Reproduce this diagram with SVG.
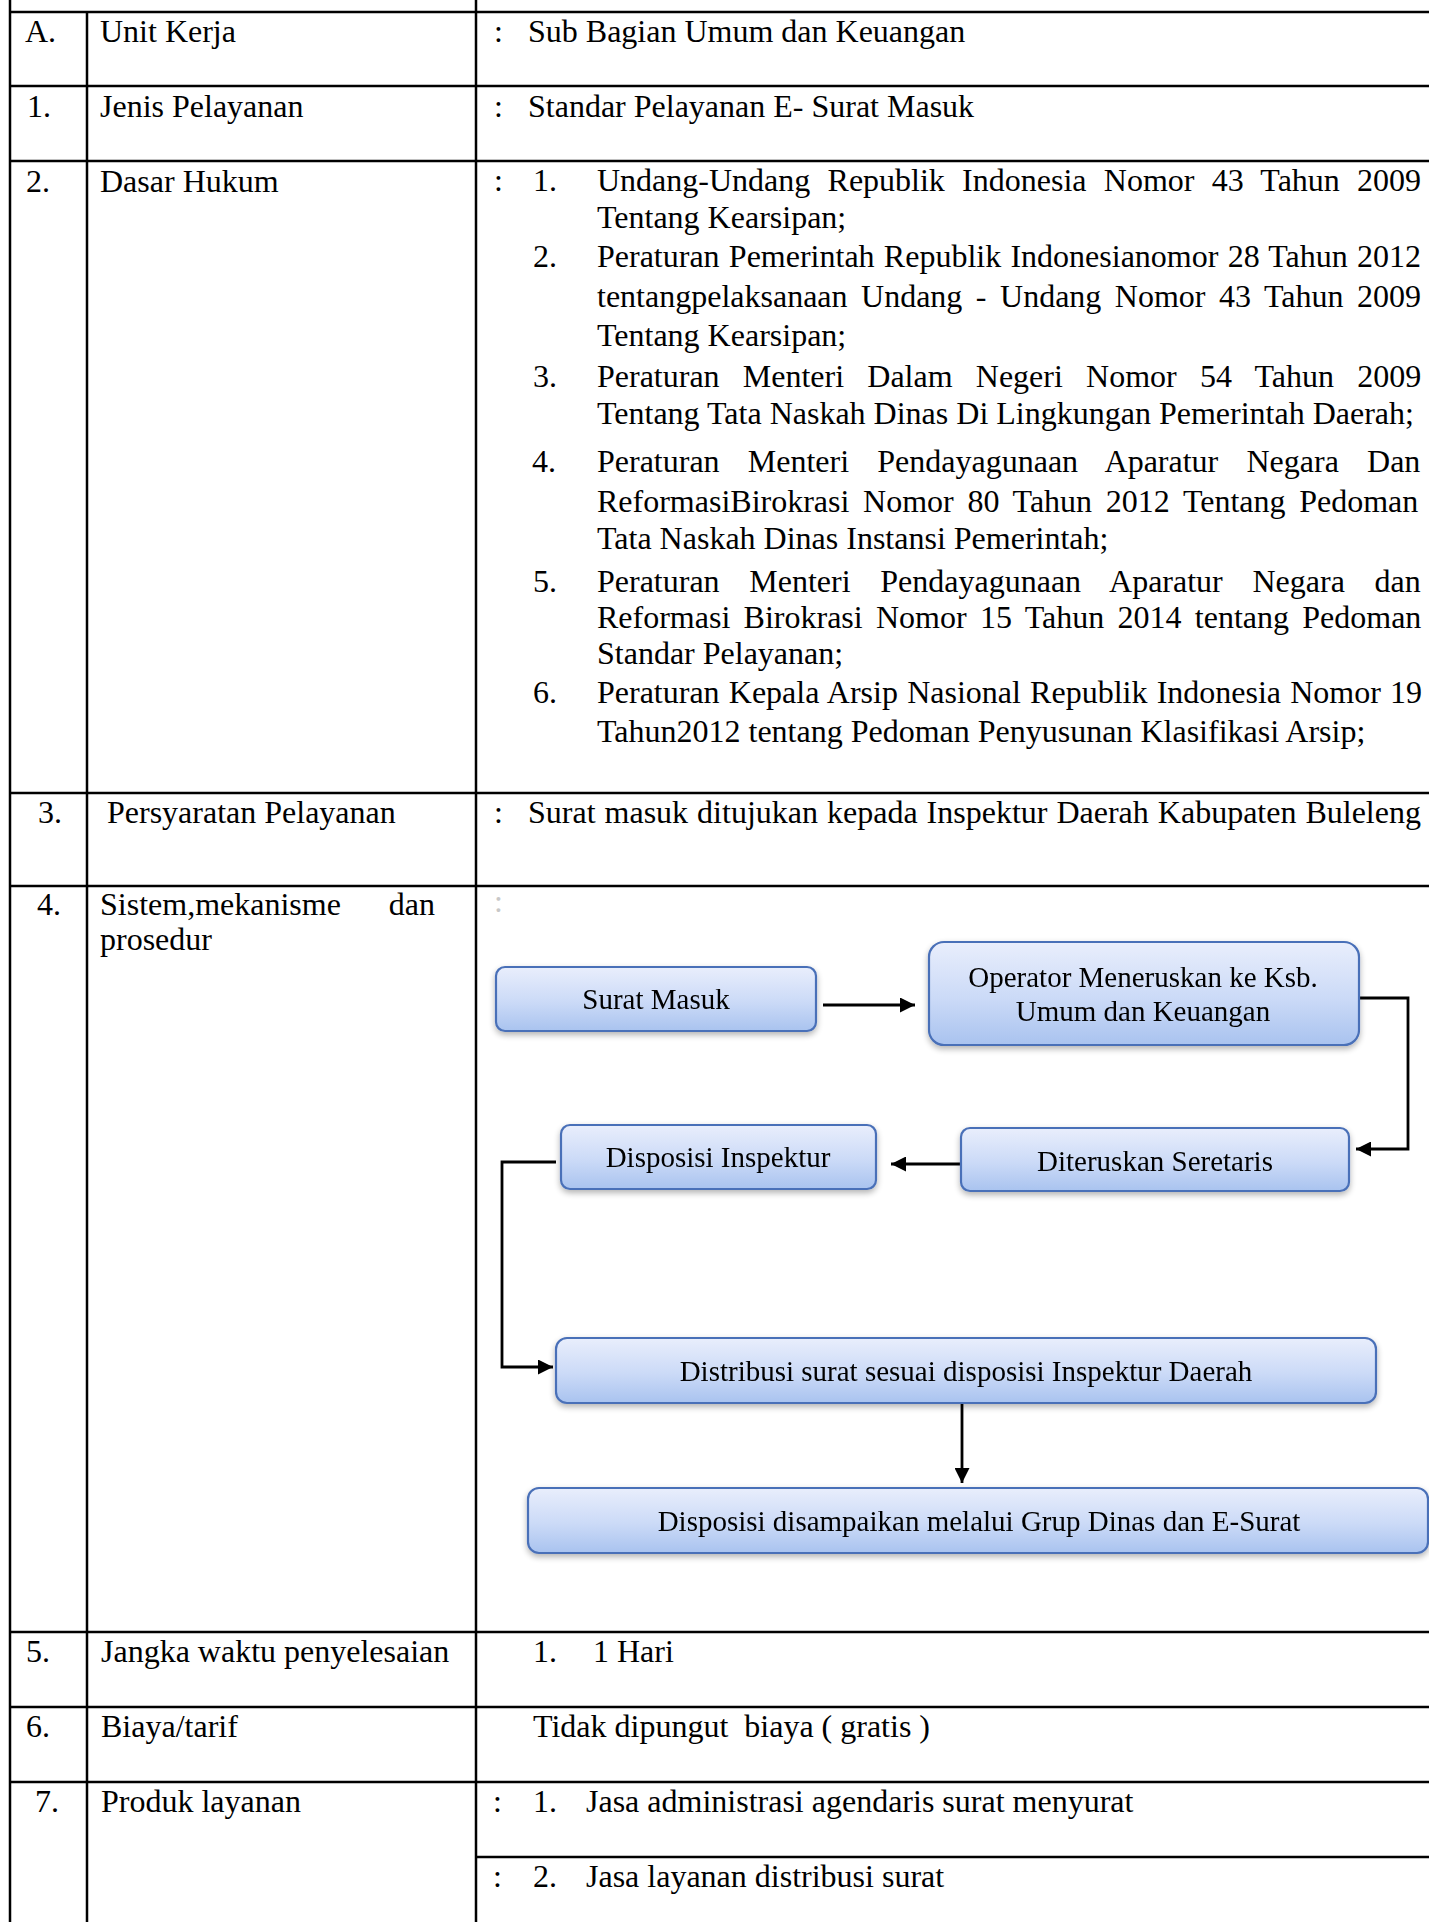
<svg xmlns="http://www.w3.org/2000/svg" width="1429" height="1922" viewBox="0 0 1429 1922">
<style>
.t{font-family:"Liberation Serif","Times New Roman",serif;font-size:32px;fill:#000}
.b{font-family:"Liberation Serif","Times New Roman",serif;font-size:29px;fill:#000;text-anchor:middle}
.grid{stroke:#000;stroke-width:2.5;fill:none}
.box{fill:url(#bg);stroke:#4a70b8;stroke-width:2.2}
.conn{stroke:#000;stroke-width:2.8;fill:none}
</style>
<defs>
<linearGradient id="bg" x1="0" y1="0" x2="0" y2="1">
<stop offset="0" stop-color="#e9eefc"/>
<stop offset="0.55" stop-color="#cbdaf7"/>
<stop offset="1" stop-color="#a9c3ef"/>
</linearGradient>
<filter id="sh" x="-5%" y="-20%" width="110%" height="150%">
<feGaussianBlur in="SourceAlpha" stdDeviation="3"/>
<feOffset dx="0" dy="3" result="o"/>
<feComponentTransfer><feFuncA type="linear" slope="0.3"/></feComponentTransfer>
<feMerge><feMergeNode/><feMergeNode in="SourceGraphic"/></feMerge>
</filter>
<marker id="ah" viewBox="0 0 10 10" refX="10" refY="5" markerWidth="17" markerHeight="15" markerUnits="userSpaceOnUse" orient="auto">
<path d="M0,0 L10,5 L0,10 z" fill="#000"/>
</marker>
</defs>
<rect width="1429" height="1922" fill="#fff"/>

<g id="table-grid" class="grid">
<line x1="10" y1="0" x2="10" y2="1922"/>
<line x1="87" y1="12" x2="87" y2="1922"/>
<line x1="476" y1="0" x2="476" y2="1922"/>
<line x1="10" y1="12" x2="1429" y2="12"/>
<line x1="10" y1="86" x2="1429" y2="86"/>
<line x1="10" y1="161" x2="1429" y2="161"/>
<line x1="10" y1="793" x2="1429" y2="793"/>
<line x1="10" y1="886" x2="1429" y2="886"/>
<line x1="10" y1="1632" x2="1429" y2="1632"/>
<line x1="10" y1="1707" x2="1429" y2="1707"/>
<line x1="10" y1="1782" x2="1429" y2="1782"/>
<line x1="476" y1="1857" x2="1429" y2="1857"/>
</g>

<g id="row-A">
<text class="t" x="25" y="42">A.</text>
<text class="t" x="100" y="42">Unit Kerja</text>
<text class="t" x="494" y="42">:</text>
<text class="t" x="528" y="42">Sub Bagian Umum dan Keuangan</text>
</g>
<g id="row-1">
<text class="t" x="27" y="117">1.</text>
<text class="t" x="100" y="117">Jenis Pelayanan</text>
<text class="t" x="494" y="117">:</text>
<text class="t" x="528" y="117">Standar Pelayanan E- Surat Masuk</text>
</g>
<g id="row-2">
<text class="t" x="26" y="192">2.</text>
<text class="t" x="100" y="192">Dasar Hukum</text>
<text class="t" x="494" y="191">:</text>
<text class="t" x="533" y="191">1.</text>
<text class="t" x="597" y="191" style="word-spacing:9.25px">Undang-Undang Republik Indonesia Nomor 43 Tahun 2009</text>
<text class="t" x="597" y="228">Tentang Kearsipan;</text>
<text class="t" x="533" y="267">2.</text>
<text class="t" x="597" y="267" style="word-spacing:1.25px">Peraturan Pemerintah Republik Indonesianomor 28 Tahun 2012</text>
<text class="t" x="597" y="307" style="word-spacing:5.5px">tentangpelaksanaan Undang - Undang Nomor 43 Tahun 2009</text>
<text class="t" x="597" y="346">Tentang Kearsipan;</text>
<text class="t" x="533" y="387">3.</text>
<text class="t" x="597" y="387" style="word-spacing:15.2px">Peraturan Menteri Dalam Negeri Nomor 54 Tahun 2009</text>
<text class="t" x="597" y="424">Tentang Tata Naskah Dinas Di Lingkungan Pemerintah Daerah;</text>
<text class="t" x="532" y="472">4.</text>
<text class="t" x="597" y="472" style="word-spacing:20.2px">Peraturan Menteri Pendayagunaan Aparatur Negara Dan</text>
<text class="t" x="597" y="512" style="word-spacing:5.7px">ReformasiBirokrasi Nomor 80 Tahun 2012 Tentang Pedoman</text>
<text class="t" x="597" y="549">Tata Naskah Dinas Instansi Pemerintah;</text>
<text class="t" x="533" y="592">5.</text>
<text class="t" x="597" y="592" style="word-spacing:21.7px">Peraturan Menteri Pendayagunaan Aparatur Negara dan</text>
<text class="t" x="597" y="628" style="word-spacing:5.3px">Reformasi Birokrasi Nomor 15 Tahun 2014 tentang Pedoman</text>
<text class="t" x="597" y="664">Standar Pelayanan;</text>
<text class="t" x="533" y="703">6.</text>
<text class="t" x="597" y="703" style="word-spacing:1.2px">Peraturan Kepala Arsip Nasional Republik Indonesia Nomor 19</text>
<text class="t" x="597" y="742">Tahun2012 tentang Pedoman Penyusunan Klasifikasi Arsip;</text>
</g>
<g id="row-3">
<text class="t" x="38" y="823">3.</text>
<text class="t" x="107" y="823">Persyaratan Pelayanan</text>
<text class="t" x="494" y="823">:</text>
<text class="t" x="528" y="823" style="word-spacing:1px">Surat masuk ditujukan kepada Inspektur Daerah Kabupaten Buleleng</text>
</g>
<g id="row-4">
<text class="t" x="37" y="915">4.</text>
<text class="t" x="100" y="915">Sistem,mekanisme</text>
<text class="t" x="435" y="915" text-anchor="end">dan</text>
<text class="t" x="100" y="950">prosedur</text>
<text class="t" x="494" y="912" style="fill:#c8c8c8">:</text>
</g>

<g id="connectors">
<line class="conn" x1="823" y1="1005" x2="915" y2="1005" marker-end="url(#ah)"/>
<polyline class="conn" points="1360,998 1408,998 1408,1149 1356,1149" marker-end="url(#ah)"/>
<line class="conn" x1="961" y1="1164" x2="891" y2="1164" marker-end="url(#ah)"/>
<polyline class="conn" points="556,1162 502,1162 502,1367 553,1367" marker-end="url(#ah)"/>
<line class="conn" x1="962" y1="1404" x2="962" y2="1483" marker-end="url(#ah)"/>
</g>

<g id="node-surat-masuk" filter="url(#sh)">
<rect class="box" x="496" y="967" width="320" height="64" rx="9"/>
<text class="b" x="656" y="1009">Surat Masuk</text>
</g>
<g id="node-operator" filter="url(#sh)">
<rect class="box" x="929" y="942" width="430" height="103" rx="15"/>
<text class="b" x="1143" y="987">Operator Meneruskan ke Ksb.</text>
<text class="b" x="1143" y="1021">Umum dan Keuangan</text>
</g>
<g id="node-diteruskan" filter="url(#sh)">
<rect class="box" x="961" y="1128" width="388" height="63" rx="9"/>
<text class="b" x="1155" y="1171">Diteruskan Seretaris</text>
</g>
<g id="node-disposisi-inspektur" filter="url(#sh)">
<rect class="box" x="561" y="1125" width="315" height="64" rx="9"/>
<text class="b" x="718" y="1167">Disposisi Inspektur</text>
</g>
<g id="node-distribusi" filter="url(#sh)">
<rect class="box" x="556" y="1338" width="820" height="65" rx="11"/>
<text class="b" x="966" y="1381">Distribusi surat sesuai disposisi Inspektur Daerah</text>
</g>
<g id="node-disposisi-disampaikan" filter="url(#sh)">
<rect class="box" x="528" y="1488" width="900" height="65" rx="11"/>
<text class="b" x="979" y="1531">Disposisi disampaikan melalui Grup Dinas dan E-Surat</text>
</g>

<g id="row-5">
<text class="t" x="26" y="1662">5.</text>
<text class="t" x="101" y="1662">Jangka waktu penyelesaian</text>
<text class="t" x="533" y="1662">1.</text>
<text class="t" x="593" y="1662">1 Hari</text>
</g>
<g id="row-6">
<text class="t" x="26" y="1737">6.</text>
<text class="t" x="101" y="1737">Biaya/tarif</text>
<text class="t" x="533" y="1737" xml:space="preserve">Tidak dipungut  biaya ( gratis )</text>
</g>
<g id="row-7">
<text class="t" x="35" y="1812">7.</text>
<text class="t" x="101" y="1812">Produk layanan</text>
<text class="t" x="493" y="1812">:</text>
<text class="t" x="533" y="1812">1.</text>
<text class="t" x="586" y="1812">Jasa administrasi agendaris surat menyurat</text>
<text class="t" x="493" y="1887">:</text>
<text class="t" x="533" y="1887">2.</text>
<text class="t" x="586" y="1887">Jasa layanan distribusi surat</text>
</g>
</svg>
